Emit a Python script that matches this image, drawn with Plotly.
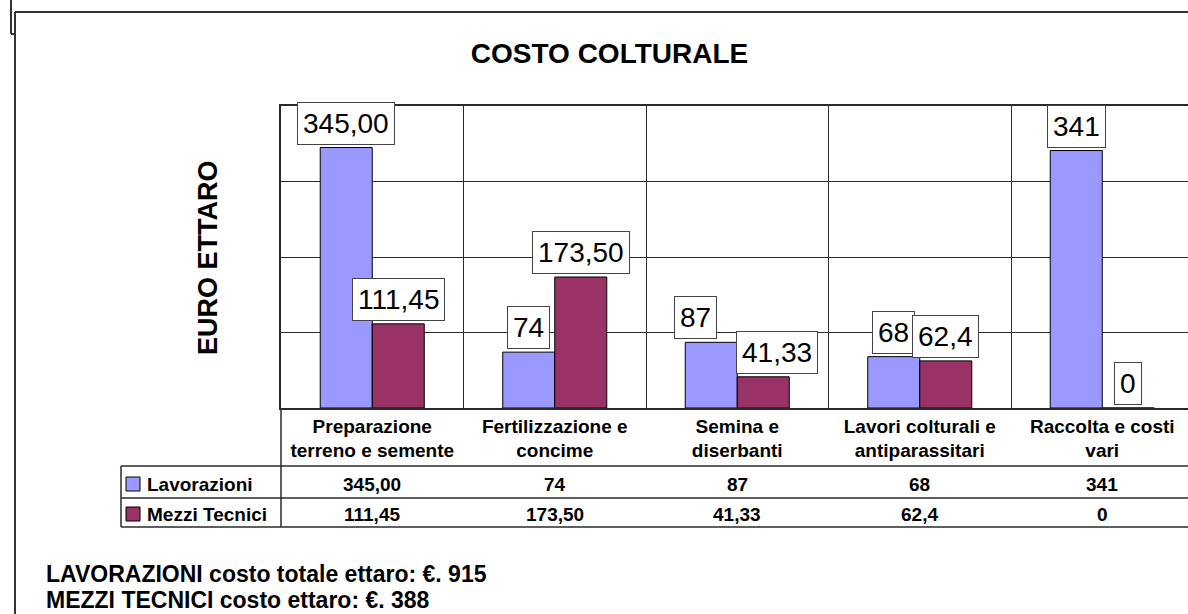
import plotly.graph_objects as go

# ---------------- data ----------------
categories = [
    "Preparazione<br>terreno e semente",
    "Fertilizzazione e<br>concime",
    "Semina e<br>diserbanti",
    "Lavori colturali e<br>antiparassitari",
    "Raccolta e costi<br>vari",
]
series_names = ["Lavorazioni", "Mezzi Tecnici"]
lavorazioni = [345.00, 74, 87, 68, 341]
mezzi_tecnici = [111.45, 173.50, 41.33, 62.4, 0]
lavorazioni_labels = ["345,00", "74", "87", "68", "341"]
mezzi_labels = ["111,45", "173,50", "41,33", "62,4", "0"]
y_ticks = [0, 100, 200, 300, 400]
chart_title = "COSTO COLTURALE"
y_title = "EURO ETTARO"
totals_text = [
    "LAVORAZIONI costo totale ettaro: €. 915",
    "MEZZI TECNICI costo ettaro: €. 388",
]

# ---------------- style ----------------
W, H = 1188, 614
ML, MT, MB = 281, 106, 206
PW, PH = W - ML, H - MT - MB
CAT_PX = 182.5
BARGAP = 0.43
colors = ["#9999FF", "#993366"]
FONT = "Liberation Sans, Arial, sans-serif"
LINE = "#2a2a2a"
# small horizontal label nudges (Excel collision avoidance), in px
label_nudge = {(0, 2): -16, (1, 2): 14}


def px_x(px):
    return (px - ML) / PW


def px_y(py):
    return (MT + PH - py) / PH


series_values = [lavorazioni, mezzi_tecnici]
series_labels = [lavorazioni_labels, mezzi_labels]

fig = go.Figure()
for name, vals, col in zip(series_names, series_values, colors):
    fig.add_trace(go.Bar(
        x=categories, y=vals, name=name,
        marker=dict(color=col, line=dict(color="black", width=1)),
        showlegend=False, hoverinfo="skip",
    ))

bar_px = (1 - BARGAP) * CAT_PX / 2
annotations = []
for si, (vals, labs) in enumerate(zip(series_values, series_labels)):
    shift = (-0.5 + si) * bar_px
    for ci, (cat, v, lab) in enumerate(zip(categories, vals, labs)):
        annotations.append(dict(
            x=cat, y=v, xref="x", yref="y", text=lab, showarrow=False,
            xanchor="center", yanchor="bottom",
            xshift=shift + label_nudge.get((si, ci), 0), yshift=3,
            font=dict(family=FONT, size=28, color="black"),
            bgcolor="white", bordercolor="#444", borderwidth=1, borderpad=5,
        ))

# data table values
row_y = [484, 514]
for si, labs in enumerate(series_labels):
    for cat, lab in zip(categories, labs):
        annotations.append(dict(
            x=cat, y=px_y(row_y[si]), xref="x", yref="paper", text=lab,
            showarrow=False, xanchor="center", yanchor="middle",
            font=dict(family=FONT, size=19, color="black", weight="bold"),
        ))
    annotations.append(dict(
        x=px_x(145), y=px_y(row_y[si]), xref="paper", yref="paper",
        text=series_names[si], showarrow=False, xanchor="left", yanchor="middle",
        font=dict(family=FONT, size=19, color="black", weight="bold"),
    ))

# y axis title
annotations.append(dict(
    x=px_x(208), y=px_y(258), xref="paper", yref="paper", text=y_title,
    showarrow=False, textangle=-90, xanchor="center", yanchor="middle",
    font=dict(family=FONT, size=27, color="black", weight="bold"),
))

# totals text
for i, t in enumerate(totals_text):
    annotations.append(dict(
        x=px_x(44), y=px_y([574, 600][i]), xref="paper", yref="paper", text=t,
        showarrow=False, xanchor="left", yanchor="middle",
        font=dict(family=FONT, size=23, color="black", weight="bold"),
    ))

shapes = []


def hline(py, x0, x1, w=1.5, c=LINE):
    shapes.append(dict(type="line", xref="paper", yref="paper",
                       x0=px_x(x0), x1=px_x(x1), y0=px_y(py), y1=px_y(py),
                       line=dict(color=c, width=w)))


def vline(px, y0, y1, w=1.5, c=LINE):
    shapes.append(dict(type="line", xref="paper", yref="paper",
                       x0=px_x(px), x1=px_x(px), y0=px_y(y0), y1=px_y(y1),
                       line=dict(color=c, width=w)))


# outer frames
vline(15, 12, 640, w=2, c="#333")
hline(12, 15, 1210, w=2, c="#333")
vline(11, -10, 34, w=2, c="#333")
hline(34, 11, 15, w=2, c="#333")
# data table grid
hline(466, 121, 1210)
hline(498, 121, 1210)
hline(527, 121, 1210)
vline(121, 466, 527)
vline(281, 408, 527)
# legend keys
for si, col in enumerate(colors):
    cy = row_y[si]
    shapes.append(dict(type="rect", xref="paper", yref="paper",
                       x0=px_x(126), x1=px_x(140), y0=px_y(cy - 7), y1=px_y(cy + 7),
                       fillcolor=col, line=dict(color="black", width=1)))

fig.update_layout(
    width=W, height=H,
    margin=dict(l=ML, r=0, t=MT, b=MB, pad=0),
    paper_bgcolor="white", plot_bgcolor="white",
    barmode="group", bargap=BARGAP, bargroupgap=0,
    title=dict(text=chart_title, x=609.5 / W, xanchor="center",
               y=1 - 53 / H, yanchor="middle", yref="container",
               font=dict(family=FONT, size=28, color="black", weight="bold")),
    xaxis=dict(
        type="category", range=[-0.5, -0.5 + PW / CAT_PX],
        tickson="boundaries", ticks="", showgrid=True, gridcolor=LINE, gridwidth=1,
        showline=True, linecolor=LINE, linewidth=1.5, mirror=True,
        tickfont=dict(family=FONT, size=19, color="black", weight="bold"),
        zeroline=False,
    ),
    yaxis=dict(
        range=[0, 400], tickvals=y_ticks, showticklabels=False,
        showgrid=True, gridcolor=LINE, gridwidth=1,
        showline=True, linecolor=LINE, linewidth=1.5, zeroline=False,
    ),
    annotations=annotations, shapes=shapes,
    font=dict(family=FONT),
)

fig.write_html(
    "out.html",
    config={"displayModeBar": False},
    post_script="document.body.style.margin='0';"
                "document.body.style.overflow='hidden';"
                "document.documentElement.style.overflow='hidden';",
)
